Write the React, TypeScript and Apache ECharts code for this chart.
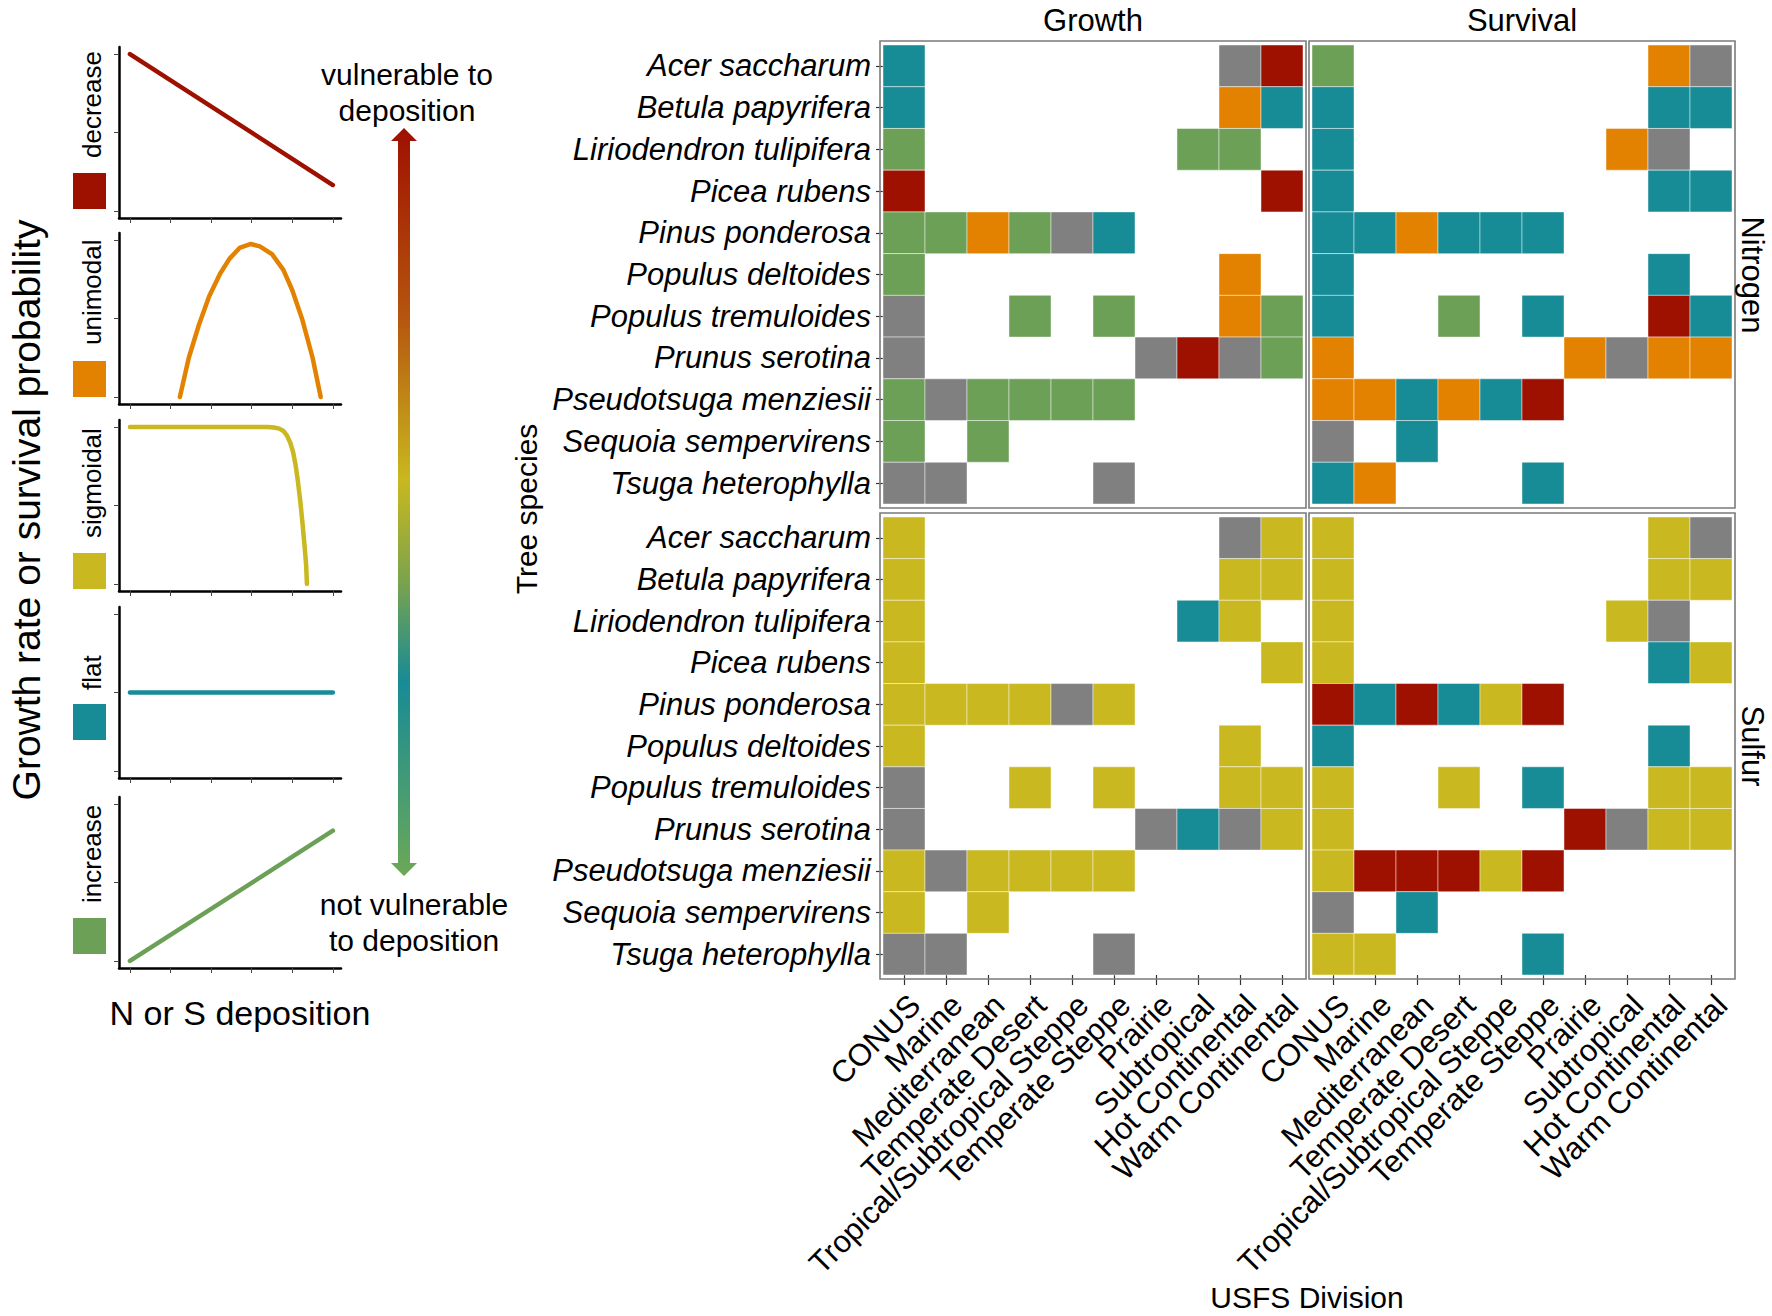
import React, { useEffect, useRef } from "react";
import * as echarts from "echarts";

const species = [
  "Acer saccharum",
  "Betula papyrifera",
  "Liriodendron tulipifera",
  "Picea rubens",
  "Pinus ponderosa",
  "Populus deltoides",
  "Populus tremuloides",
  "Prunus serotina",
  "Pseudotsuga menziesii",
  "Sequoia sempervirens",
  "Tsuga heterophylla",
];

const divisions = [
  "CONUS",
  "Marine",
  "Mediterranean",
  "Temperate Desert",
  "Tropical/Subtropical Steppe",
  "Temperate Steppe",
  "Prairie",
  "Subtropical",
  "Hot Continental",
  "Warm Continental",
];

// response codes per row (one char per division):
// D decrease, U unimodal, S sigmoidal, F flat, I increase, G grey (other), . none
const growthNitrogen = [
  "F.......GD",
  "F.......UF",
  "I......II.",
  "D........D",
  "IIUIGF....",
  "I.......U.",
  "G..I.I..UI",
  "G.....GDGI",
  "IGIIII....",
  "I.I.......",
  "GG...G....",
];
const survivalNitrogen = [
  "I.......UG",
  "F.......FF",
  "F......UG.",
  "F.......FF",
  "FFUFFF....",
  "F.......F.",
  "F..I.F..DF",
  "U.....UGUU",
  "UUFUFD....",
  "G.F.......",
  "FU...F....",
];
const growthSulfur = [
  "S.......GS",
  "S.......SS",
  "S......FS.",
  "S........S",
  "SSSSGS....",
  "S.......S.",
  "G..S.S..SS",
  "G.....GFGS",
  "SGSSSS....",
  "S.S.......",
  "GG...G....",
];
const survivalSulfur = [
  "S.......SG",
  "S.......SS",
  "S......SG.",
  "S.......FS",
  "DFDFSD....",
  "F.......F.",
  "S..S.F..SS",
  "S.....DGSS",
  "SDDDSD....",
  "G.F.......",
  "SS...F....",
];

const responseCodes = ["D", "U", "S", "F", "I", "G"];
const responseNames = ["decrease", "unimodal", "sigmoidal", "flat", "increase"];

// schematic response curves (x: deposition, y: growth/survival)
const decreaseCurve = [[0, 2.0], [5, 0.33]];
const unimodalCurve = [
  [1.23, 0], [1.45, 0.5], [1.7, 0.92], [1.95, 1.28], [2.22, 1.57], [2.45, 1.76],
  [2.7, 1.9], [2.98, 1.95], [3.2, 1.92], [3.5, 1.82], [3.78, 1.62], [4.0, 1.36],
  [4.25, 0.98], [4.5, 0.5], [4.7, 0],
];
const sigmoidalCurve = [
  [0, 2], [3.4, 2], [3.55, 1.995], [3.68, 1.98], [3.78, 1.95], [3.87, 1.89],
  [3.95, 1.8], [4.02, 1.68], [4.08, 1.52], [4.14, 1.3], [4.2, 1.04],
  [4.25, 0.78], [4.3, 0.5], [4.34, 0.25], [4.36, 0],
];
const flatCurve = [[0, 1], [5, 1]];
const increaseCurve = [[0, 0], [5, 1.66]];
const miniCurves = [decreaseCurve, unimodalCurve, sigmoidalCurve, flatCurve, increaseCurve];

const COLORS: Record<string, string> = {
  D: "#9E1000",
  U: "#E38200",
  S: "#C9B81F",
  F: "#178B96",
  I: "#6CA057",
  G: "#808080",
};

const FONT = "'Liberation Sans', Arial, Helvetica, sans-serif";

function buildOption() {
  const heatPanels = [
    { rows: growthNitrogen, left: 883, top: 45, height: 459, showX: false, showY: true },
    { rows: survivalNitrogen, left: 1312, top: 45, height: 459, showX: false, showY: false },
    { rows: growthSulfur, left: 883, top: 517, height: 458, showX: true, showY: true },
    { rows: survivalSulfur, left: 1312, top: 517, height: 458, showX: true, showY: false },
  ];
  const miniTops = [47, 233, 420, 607, 797];

  const grid: any[] = [];
  const xAxis: any[] = [];
  const yAxis: any[] = [];
  const series: any[] = [];

  heatPanels.forEach((p, i) => {
    grid.push({ left: p.left, top: p.top, width: 420, height: p.height });
    xAxis.push({
      type: "category",
      gridIndex: i,
      data: divisions,
      position: "bottom",
      axisLine: { show: false },
      axisTick: { show: p.showX, alignWithLabel: true, length: 10, lineStyle: { color: "#333", width: 1.2 } },
      axisLabel: {
        show: p.showX, rotate: 45, interval: 0, fontSize: 31, color: "#000",
        margin: 14, verticalAlign: "top", fontFamily: FONT,
      },
      splitLine: { show: false },
    });
    yAxis.push({
      type: "category",
      gridIndex: i,
      data: species,
      inverse: true,
      axisLine: { show: false },
      axisTick: { show: p.showY, alignWithLabel: true, length: 7, lineStyle: { color: "#333", width: 1.2 } },
      axisLabel: {
        show: p.showY, interval: 0, fontSize: 31, fontStyle: "italic", color: "#000",
        margin: 12, fontFamily: FONT,
      },
      splitLine: { show: false },
    });
    const data: any[] = [];
    p.rows.forEach((row, r) => {
      row.split("").forEach((code, c) => {
        if (code !== ".") data.push([c, r, responseCodes.indexOf(code)]);
      });
    });
    series.push({
      type: "custom",
      xAxisIndex: i,
      yAxisIndex: i,
      data,
      silent: true,
      encode: { x: 0, y: 1 },
      renderItem: (params: any, api: any) => {
        const c = api.coord([api.value(0), api.value(1)]);
        const s = api.size([1, 1]);
        const code = responseCodes[api.value(2)];
        return {
          type: "rect",
          shape: { x: c[0] - s[0] / 2, y: c[1] - s[1] / 2, width: s[0], height: s[1] },
          style: { fill: COLORS[code], stroke: "rgba(255,255,255,0.45)", lineWidth: 1 },
        };
      },
    });
  });

  miniCurves.forEach((curve, k) => {
    const gi = 4 + k;
    grid.push({ left: 119, top: miniTops[k], width: 222, height: 171 });
    xAxis.push({
      type: "value",
      gridIndex: gi,
      min: -0.27,
      max: 5.2,
      axisLine: { show: true, onZero: false, lineStyle: { color: "#000", width: 2.5 } },
      axisTick: { show: true, customValues: [0, 1, 2, 3, 4, 5], length: 5, lineStyle: { color: "#444", width: 1 } },
      axisLabel: { show: false },
      splitLine: { show: false },
    });
    yAxis.push({
      type: "value",
      gridIndex: gi,
      min: -0.09,
      max: 2.09,
      axisLine: { show: true, onZero: false, lineStyle: { color: "#000", width: 2.5 } },
      axisTick: { show: true, customValues: [0, 1, 2], length: 5, lineStyle: { color: "#444", width: 1 } },
      axisLabel: { show: false },
      splitLine: { show: false },
    });
    series.push({
      type: "line",
      xAxisIndex: gi,
      yAxisIndex: gi,
      data: curve,
      showSymbol: false,
      silent: true,
      smooth: false,
      lineStyle: { color: COLORS[responseCodes[k]], width: 4.5, cap: "round", join: "round" },
    });
  });

  const graphic: any[] = [];
  // panel borders
  [
    [880, 41, 426, 467],
    [1309, 41, 426, 467],
    [880, 513, 426, 466],
    [1309, 513, 426, 466],
  ].forEach(([x, y, w, h]) => {
    graphic.push({
      type: "rect", z: 100, silent: true,
      shape: { x, y, width: w, height: h },
      style: { fill: "none", stroke: "#7a7a7a", lineWidth: 1.6 },
    });
  });
  const txt = (text: string, x: number, y: number, size: number, opts: any = {}) => ({
    type: "text", z: 100, silent: true, x, y, rotation: opts.rotation || 0,
    style: {
      text, fill: "#000", font: `${opts.italic ? "italic " : ""}${size}px ${FONT}`,
      align: opts.align || "center", verticalAlign: opts.verticalAlign || "middle",
    },
  });
  graphic.push(txt("Growth", 1093, 20, 31));
  graphic.push(txt("Survival", 1522, 20, 31));
  graphic.push(txt("Nitrogen", 1752, 275, 31, { rotation: -Math.PI / 2 }));
  graphic.push(txt("Sulfur", 1752, 746, 31, { rotation: -Math.PI / 2 }));
  graphic.push(txt("Tree species", 526, 509, 30, { rotation: Math.PI / 2 }));
  graphic.push(txt("USFS Division", 1307, 1297, 30));
  graphic.push(txt("Growth rate or survival probability", 26, 510, 39, { rotation: Math.PI / 2 }));
  graphic.push(txt("N or S deposition", 240, 1013, 34));
  graphic.push(txt("vulnerable to", 407, 74, 30));
  graphic.push(txt("deposition", 407, 110, 30));
  graphic.push(txt("not vulnerable", 414, 904, 30));
  graphic.push(txt("to deposition", 414, 940, 30));

  const squareTops = [173, 361, 553, 704, 918];
  const labelBottoms = [158, 345, 538, 690, 903];
  responseNames.forEach((name, k) => {
    graphic.push({
      type: "rect", z: 100, silent: true,
      shape: { x: 73, y: squareTops[k], width: 33, height: 36 },
      style: { fill: COLORS[responseCodes[k]] },
    });
    graphic.push(txt(name, 92, labelBottoms[k], 26, { rotation: Math.PI / 2, align: "left" }));
  });

  // gradient arrow
  graphic.push({
    type: "polygon", z: 100, silent: true,
    shape: {
      points: [
        [404, 128], [417, 141], [410, 141], [410, 863], [417, 863],
        [404, 876], [391, 863], [398, 863], [398, 141], [391, 141],
      ],
    },
    style: {
      fill: {
        type: "linear", x: 0, y: 128, x2: 0, y2: 876, global: true,
        colorStops: [
          { offset: 0, color: "#9E1000" },
          { offset: 0.25, color: "#B5540E" },
          { offset: 0.47, color: "#C9B81F" },
          { offset: 0.6, color: "#7FA44A" },
          { offset: 0.74, color: "#178B96" },
          { offset: 1, color: "#6CA857" },
        ],
      },
    },
  });

  return {
    animation: false,
    backgroundColor: "#fff",
    textStyle: { fontFamily: FONT },
    grid,
    xAxis,
    yAxis,
    series,
    graphic,
  };
}

export default function App() {
  const ref = useRef<HTMLDivElement>(null);
  useEffect(() => {
    const chart = echarts.init(ref.current!, null, { renderer: "svg" });
    chart.setOption(buildOption() as any);
    return () => chart.dispose();
  }, []);
  return (
    <div
      ref={ref}
      style={{ position: "absolute", left: 0, top: 0, width: 1772, height: 1316, background: "#fff" }}
    />
  );
}
